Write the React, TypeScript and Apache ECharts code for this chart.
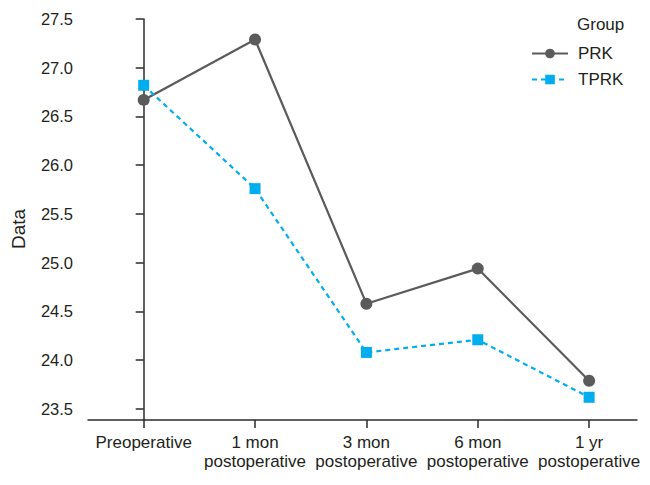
import React, { useEffect, useRef } from "react";
import * as echarts from "echarts";

const categories = ["Preoperative", "1 mon\npostoperative", "3 mon\npostoperative", "6 mon\npostoperative", "1 yr\npostoperative"];
const prkValues = [26.67, 27.29, 24.58, 24.94, 23.79];
const tprkValues = [26.82, 25.76, 24.08, 24.21, 23.62];
const yTicks = [23.5, 24.0, 24.5, 25.0, 25.5, 26.0, 26.5, 27.0, 27.5];
const seriesNames = ["PRK", "TPRK"];

const FONT = "'Liberation Sans', Arial, Helvetica, sans-serif";
const GRAY = "#5b5b5b";
const CYAN = "#00aeef";
const AXIS = "#2b2b2b";
const TEXT = "#231f20";

export default function App() {
  const ref = useRef<HTMLDivElement>(null);
  useEffect(() => {
    if (!ref.current) return;
    const chart = echarts.init(ref.current, undefined, { renderer: "svg" });
    const xIdx = categories.map((_, i) => i);
    chart.setOption({
      animation: false,
      backgroundColor: "#ffffff",
      grid: { left: 88, right: 13, top: 19, bottom: 65, containLabel: false },
      xAxis: {
        type: "value",
        min: -0.5,
        max: 4.43,
        axisLine: { show: true, onZero: false, lineStyle: { color: AXIS, width: 1.5 } },
        axisTick: { show: true, customValues: xIdx, length: 8, lineStyle: { color: AXIS, width: 1.5 } },
        axisLabel: {
          customValues: xIdx,
          formatter: (v: number) => categories[Math.round(v)] ?? "",
          color: TEXT,
          fontFamily: FONT,
          fontSize: 17,
          lineHeight: 19,
          margin: 13,
          verticalAlign: "top",
        },
        splitLine: { show: false },
      },
      yAxis: {
        type: "value",
        min: 23.387,
        max: 27.5,
        axisLine: { show: true, lineStyle: { color: AXIS, width: 1.5 } },
        axisTick: { show: true, customValues: yTicks, length: 8, lineStyle: { color: AXIS, width: 1.5 } },
        axisLabel: {
          customValues: yTicks,
          formatter: (v: number) => v.toFixed(1),
          color: TEXT,
          fontFamily: FONT,
          fontSize: 16.5,
          margin: 15,
        },
        splitLine: { show: false },
      },
      legend: {
        orient: "vertical",
        left: 531,
        top: 45,
        padding: 0,
        itemWidth: 36,
        itemHeight: 12,
        itemGap: 9,
        textStyle: { fontFamily: FONT, fontSize: 17, color: TEXT, padding: [0, 0, 0, 5] },
        data: seriesNames,
      },
      graphic: [
        {
          type: "text",
          left: 577,
          top: 16,
          style: { text: "Group", fontFamily: FONT, fontSize: 17, fill: TEXT },
        },
        {
          type: "text",
          x: 18,
          y: 229,
          rotation: Math.PI / 2,
          style: {
            text: "Data",
            fontFamily: FONT,
            fontSize: 19,
            fill: TEXT,
            align: "center",
            verticalAlign: "middle",
          },
        },
      ],
      series: [
        {
          name: seriesNames[0],
          type: "line",
          data: prkValues.map((v, i) => [i, v]),
          symbol: "circle",
          symbolSize: 12,
          lineStyle: { color: GRAY, width: 2.2 },
          itemStyle: { color: GRAY },
          z: 2,
        },
        {
          name: seriesNames[1],
          type: "line",
          data: tprkValues.map((v, i) => [i, v]),
          symbol: "rect",
          symbolSize: 11,
          lineStyle: { color: CYAN, width: 2.2, type: [5, 4] },
          itemStyle: { color: CYAN },
          z: 3,
        },
      ],
    });
    return () => chart.dispose();
  }, []);
  return <div ref={ref} style={{ width: 650, height: 485, margin: -8 }} />;
}
